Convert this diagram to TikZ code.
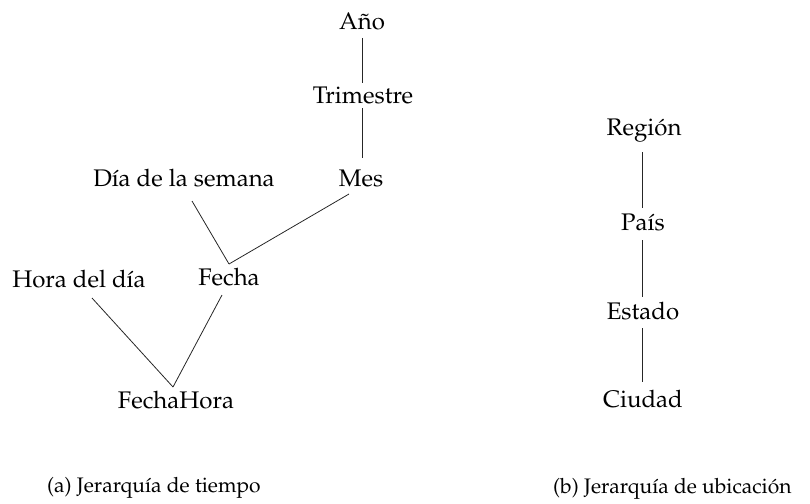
\documentclass[tikz,border=0pt]{standalone}
\usepackage[T1]{fontenc}
\usepackage{mathpazo}
\usetikzlibrary{calc}
\tikzset{
  lbl/.style={anchor=base, inner sep=0pt, font=\fontsize{24}{29}\selectfont},
  captext/.style={anchor=base west, inner sep=0pt, font=\fontsize{21}{26}\selectfont},
  edgeline/.style={line width=0.8pt, black!85}
}
\begin{document}
\begin{tikzpicture}[x=1pt,y=-1pt]
\useasboundingbox (0,0) rectangle (810,503);
% (a) time hierarchy
\node[lbl] (ano) at (362,30) {A\~no};
\node[lbl] (tri) at (363,103) {Trimestre};
\node[lbl] (mes) at (361,186) {Mes};
\node[lbl] (dia) at (184,186) {D\'{\i}a de la semana};
\node[lbl] (fecha) at (229,285) {Fecha};
\node[lbl] (hora) at (79,287) {Hora del d\'{\i}a};
\node[lbl] (fh) at (176,408) {FechaHora};
% (b) location hierarchy
\node[lbl] (reg) at (644,135) {Regi\'on};
\node[lbl] (pais) at (643,230) {Pa\'{\i}s};
\node[lbl] (est) at (643,319) {Estado};
\node[lbl] (ciu) at (643,407) {Ciudad};
% captions
\node[captext] (capa) at (47,492) {(a) Jerarqu\'{\i}a de tiempo};
\node[captext] (capb) at (553,493) {(b) Jerarqu\'{\i}a de ubicaci\'on};
% connectors
\draw[edgeline] ($(ano.base)+(0,8)$) -- ($(tri.base)+(-1,-20)$);
\draw[edgeline] ($(tri.base)+(-1,5)$) -- ($(mes.base)+(1,-28)$);
\coordinate (fj) at ($(fecha.base)+(0,-21)$);
\draw[edgeline] ($(mes.base)+(-12,8)$) -- (fj);
\draw[edgeline] ($(dia.base)+(8,15)$) -- (fj);
\coordinate (hj) at ($(fh.base)+(-3,-21)$);
\draw[edgeline] ($(hora.base)+(13,11)$) -- (hj);
\draw[edgeline] ($(fecha.base)+(-7,10)$) -- (hj);
\draw[edgeline] ($(reg.base)+(-2,17)$) -- ($(pais.base)+(-1,-22)$);
\draw[edgeline] ($(pais.base)+(-1,10)$) -- ($(est.base)+(-1,-22)$);
\draw[edgeline] ($(est.base)+(-1,9)$) -- ($(ciu.base)+(-1,-25)$);
\end{tikzpicture}
\end{document}
